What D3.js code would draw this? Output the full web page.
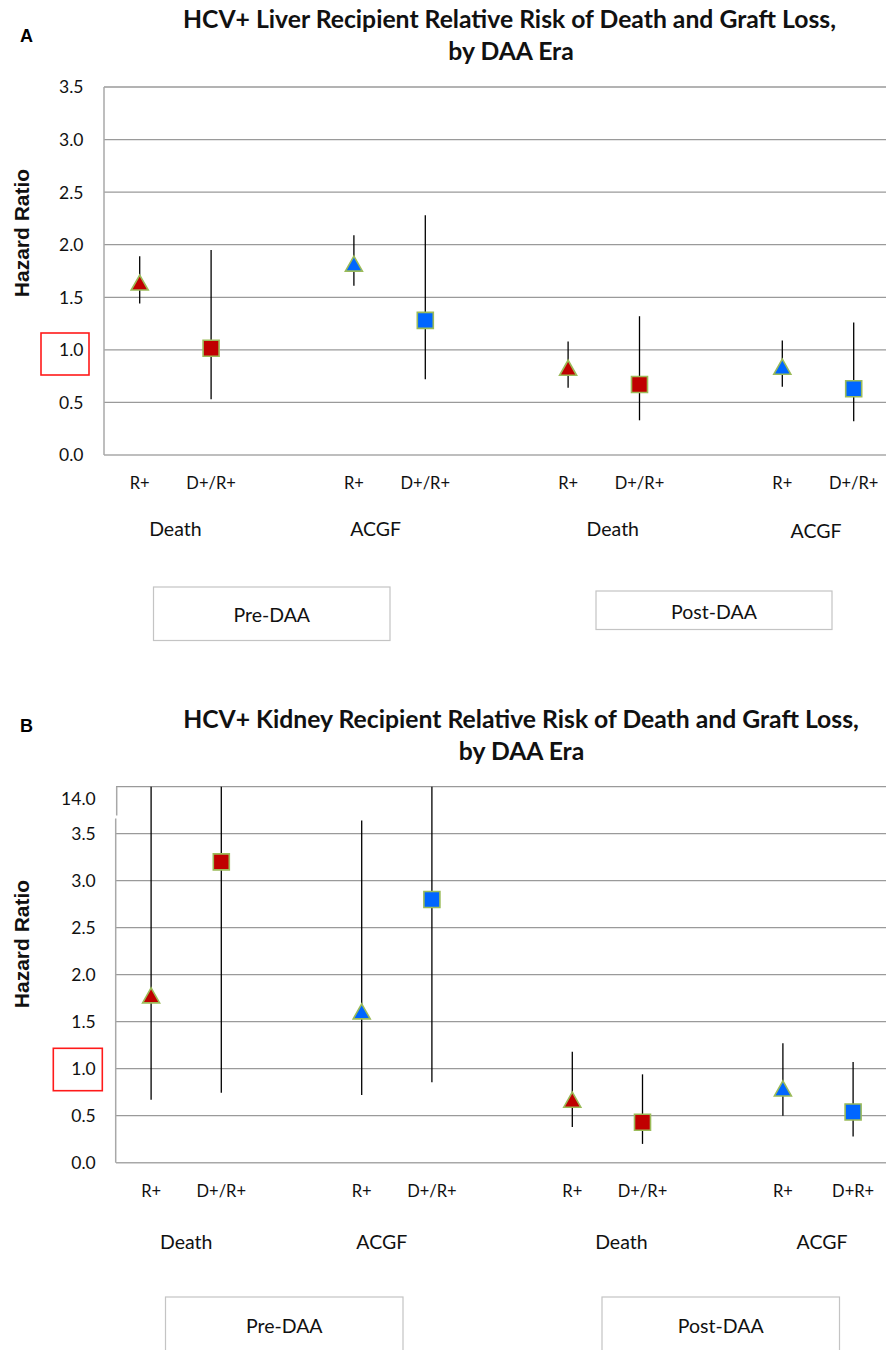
<!DOCTYPE html>
<html>
<head>
<meta charset="utf-8">
<script src="https://cdn.jsdelivr.net/npm/d3@7"></script>
<style>
  html, body { margin: 0; padding: 0; background: #fff; }
  svg { display: block; }
</style>
</head>
<body>
<svg id="chart" width="886" height="1350"></svg>
<script>
// ---------------- DATA ----------------
const titleA = ["HCV+ Liver Recipient Relative Risk of Death and Graft Loss,", "by DAA Era"];
const titleB = ["HCV+ Kidney Recipient Relative Risk of Death and Graft Loss,", "by DAA Era"];
const outcomes = ["Death", "ACGF", "Death", "ACGF"];
const eras = ["Pre-DAA", "Post-DAA"];
const recipientsA = ["R+", "D+/R+", "R+", "D+/R+", "R+", "D+/R+", "R+", "D+/R+"];
const recipientsB = ["R+", "D+/R+", "R+", "D+/R+", "R+", "D+/R+", "R+", "D+R+"];
const markerType = ["triangle", "square", "triangle", "square", "triangle", "square", "triangle", "square"];
const markerColor = ["red", "red", "blue", "blue", "red", "red", "blue", "blue"];

// Panel A (liver): hazard ratio, lower and upper 95% CI
const hrA   = [1.64, 1.015, 1.82, 1.28, 0.83, 0.67, 0.84, 0.63];
const lowA  = [1.44, 0.53, 1.61, 0.72, 0.64, 0.33, 0.65, 0.32];
const highA = [1.89, 1.95, 2.09, 2.28, 1.08, 1.32, 1.09, 1.26];

// Panel B (kidney): hazard ratio, lower and upper 95% CI (upper values beyond axis break)
const hrB   = [1.78, 3.20, 1.61, 2.80, 0.67, 0.43, 0.79, 0.54];
const lowB  = [0.67, 0.745, 0.72, 0.855, 0.38, 0.20, 0.50, 0.28];
const highB = [4.9, 13.8, 3.64, 9.5, 1.18, 0.94, 1.27, 1.07];

const ticksA = [0, 0.5, 1.0, 1.5, 2.0, 2.5, 3.0, 3.5];
const tickLabelsA = ["0.0", "0.5", "1.0", "1.5", "2.0", "2.5", "3.0", "3.5"];
const ticksB = [0, 0.5, 1.0, 1.5, 2.0, 2.5, 3.0, 3.5, 4.0];
const tickLabelsB = ["0.0", "0.5", "1.0", "1.5", "2.0", "2.5", "3.0", "3.5", "14.0"];
const yLabel = "Hazard Ratio";

// ---------------- STYLE ----------------
const colors = { red: "#C00000", blue: "#0066FF" };
const markerStroke = "#9BBB59";
const gridColor = "#9a9a9a";
const axisColor = "#a8a8a8";
const font = "Lato, 'Open Sans', sans-serif";
const fontArial = "'Liberation Sans', Arial, sans-serif";

const svg = d3.select("#chart");
const slots = d3.range(11);
const slotOf = i => Math.floor(i / 2) * 3 + (i % 2);

function drawPanel(cfg) {
  const g = svg.append("g");
  const x = d3.scaleBand().domain(slots).range([cfg.left, cfg.right]);
  const y = d3.scaleLinear().domain(cfg.domain).range([cfg.bottom, cfg.top]).clamp(true);
  const cx = i => x(slotOf(i)) + x.bandwidth() / 2;

  // panel letter
  g.append("text").attr("x", 20).attr("y", cfg.letterY)
    .attr("font-family", fontArial).attr("font-weight", "bold").attr("font-size", 18)
    .text(cfg.letter);

  // title (fit first line to target width)
  const t1 = g.append("text").attr("x", cfg.titleX).attr("y", cfg.titleY)
    .attr("text-anchor", "middle").attr("font-family", font).attr("font-weight", "bold")
    .attr("font-size", 22).attr("fill", "#111").text(cfg.title[0]);
  const w = t1.node().getComputedTextLength();
  const fs = 22 * cfg.titleWidth / w;
  t1.attr("font-size", fs);
  g.append("text").attr("x", cfg.titleX2).attr("y", cfg.titleY + 32)
    .attr("text-anchor", "middle").attr("font-family", font).attr("font-weight", "bold")
    .attr("font-size", fs).attr("fill", "#111").text(cfg.title[1]);

  // gridlines
  g.append("g").selectAll("line").data(cfg.ticks.filter(v => v > 0)).join("line")
    .attr("x1", cfg.left).attr("x2", 886)
    .attr("y1", d => y(d)).attr("y2", d => y(d))
    .attr("stroke", gridColor).attr("stroke-width", 1.3);
  // bottom axis
  g.append("line").attr("x1", cfg.left).attr("x2", 886)
    .attr("y1", y(0)).attr("y2", y(0)).attr("stroke", axisColor).attr("stroke-width", 1.5);
  // left axis
  if (cfg.breakAt) {
    g.append("line").attr("x1", cfg.left + 0.7).attr("x2", cfg.left + 0.7)
      .attr("y1", cfg.top).attr("y2", cfg.breakAt - 1.5).attr("stroke", axisColor).attr("stroke-width", 1.5);
    g.append("line").attr("x1", cfg.left - 0.3).attr("x2", cfg.left - 0.3)
      .attr("y1", cfg.breakAt + 1.5).attr("y2", y(0)).attr("stroke", axisColor).attr("stroke-width", 1.5);
  } else {
    g.append("line").attr("x1", cfg.left).attr("x2", cfg.left)
      .attr("y1", cfg.top).attr("y2", y(0)).attr("stroke", axisColor).attr("stroke-width", 1.5);
  }

  // y axis tick labels
  const ax = g.append("g").attr("transform", `translate(${cfg.left},0)`)
    .call(d3.axisLeft(y).tickValues(cfg.ticks).tickSize(0).tickPadding(cfg.tickPad)
      .tickFormat((d, i) => cfg.tickLabels[i]));
  ax.select(".domain").remove();
  ax.selectAll("text").attr("font-family", font).attr("font-size", 17.5).attr("fill", "#111")
    .attr("dy", (d, i) => (cfg.breakAt && i === cfg.ticks.length - 1) ? "1.0em" : "0.34em");

  // y axis title
  g.append("text").attr("transform", `translate(${cfg.yTitleX},${cfg.yTitleY}) rotate(-90)`)
    .attr("text-anchor", "middle").attr("font-family", fontArial).attr("font-weight", "bold")
    .attr("font-size", 21).attr("fill", "#111").text(yLabel);

  // red highlight box around 1.0
  g.append("rect").attr("x", cfg.redBox[0]).attr("y", cfg.redBox[1])
    .attr("width", cfg.redBox[2]).attr("height", cfg.redBox[3])
    .attr("fill", "none").attr("stroke", "#FF1A1A").attr("stroke-width", 1.6);

  // CI whiskers
  g.append("g").selectAll("line").data(cfg.hr).join("line")
    .attr("x1", (d, i) => cx(i)).attr("x2", (d, i) => cx(i))
    .attr("y1", (d, i) => y(cfg.low[i])).attr("y2", (d, i) => y(cfg.high[i]))
    .attr("stroke", "#000").attr("stroke-width", 1.3);

  // markers
  const tri = "M0,-7.5L8.5,7.5L-8.5,7.5Z";
  const sq = "M-8,-8H8V8H-8Z";
  g.append("g").selectAll("path").data(cfg.hr).join("path")
    .attr("transform", (d, i) => `translate(${cx(i)},${y(d)})`)
    .attr("d", (d, i) => markerType[i] === "triangle" ? tri : sq)
    .attr("fill", (d, i) => colors[markerColor[i]])
    .attr("stroke", markerStroke).attr("stroke-width", 1.6);

  // recipient labels
  g.append("g").selectAll("text").data(cfg.recipients).join("text")
    .attr("x", (d, i) => cx(i)).attr("y", cfg.recY)
    .attr("text-anchor", "middle").attr("font-family", font).attr("font-size", 16.5)
    .attr("fill", "#111").text(d => d);

  // outcome labels
  g.append("g").selectAll("text").data(outcomes).join("text")
    .attr("x", (d, k) => (cx(2 * k) + cx(2 * k + 1)) / 2 + cfg.outDx[k])
    .attr("y", (d, k) => cfg.outY + cfg.outDy[k])
    .attr("text-anchor", "middle").attr("font-family", font).attr("font-size", 19.5)
    .attr("fill", "#111").text(d => d);

  // era boxes
  eras.forEach((e, k) => {
    const b = cfg.eraBoxes[k];
    g.append("rect").attr("x", b[0]).attr("y", b[1]).attr("width", b[2]).attr("height", b[3])
      .attr("fill", "#fff").attr("stroke", "#c4c4c4").attr("stroke-width", 1.2);
    g.append("text").attr("x", b[0] + b[2] / 2).attr("y", b[4])
      .attr("text-anchor", "middle").attr("font-family", font).attr("font-size", 19.5)
      .attr("fill", "#111").text(e);
  });
}

drawPanel({
  letter: "A", letterY: 42,
  title: titleA, titleX: 509.5, titleX2: 511, titleY: 28, titleWidth: 653,
  left: 104, right: 889.4, top: 87, bottom: 455, domain: [0, 3.5],
  ticks: ticksA, tickLabels: tickLabelsA, tickPad: 20.5,
  yTitleX: 28.5, yTitleY: 233,
  redBox: [41, 333, 48, 42],
  hr: hrA, low: lowA, high: highA, recipients: recipientsA,
  recY: 489, outY: 536, outDx: [0, -14, 9, -2], outDy: [0, 0, 0, 2],
  eraBoxes: [[153.5, 587, 236.5, 53.5, 622], [596, 591, 236, 38.5, 618.5]]
});

drawPanel({
  letter: "B", letterY: 732,
  title: titleB, titleX: 521, titleX2: 521.5, titleY: 728, titleWidth: 676,
  left: 116, right: 888.2, top: 786.7, bottom: 1162.7, domain: [0, 4.0],
  ticks: ticksB, tickLabels: tickLabelsB, tickPad: 20.3, breakAt: 817,
  yTitleX: 29.3, yTitleY: 944,
  redBox: [53.3, 1048.3, 49, 42.4],
  hr: hrB, low: lowB, high: highB, recipients: recipientsB,
  recY: 1197, outY: 1249, outDx: [0, -15, 14, 4], outDy: [0, 0, 0, 0],
  eraBoxes: [[165.5, 1297, 237.5, 70, 1333], [602, 1297, 237.5, 70, 1333]]
});
</script>
</body>
</html>
